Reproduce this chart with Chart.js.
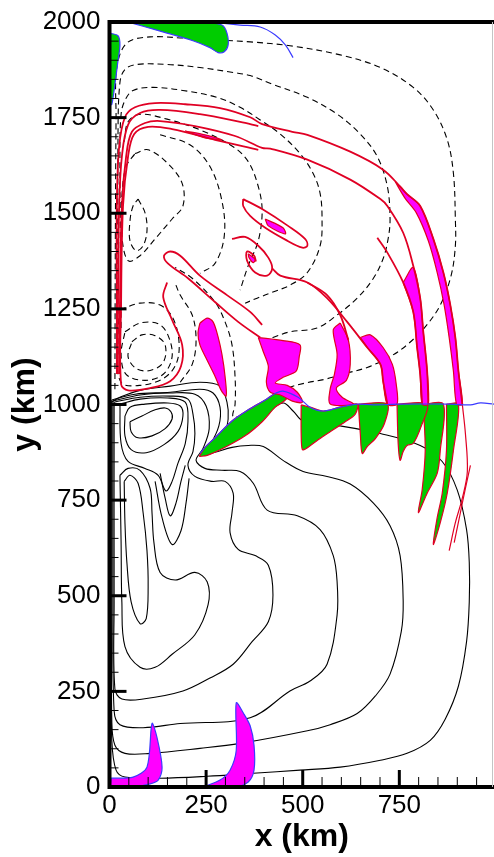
<!DOCTYPE html>
<html>
<head>
<meta charset="utf-8">
<script src="https://cdn.jsdelivr.net/npm/chart.js@4.4.1/dist/chart.umd.min.js"></script>
<style>
  html, body { margin: 0; padding: 0; background: #fff; overflow: hidden; }
  canvas { display: block; }
</style>
</head>
<body>
<canvas id="gyre" width="494" height="857"></canvas>
<script>
// axes, km
var xMax = 995;
var yMax = 2000;
var xTickValues = [0, 250, 500, 750];
var yTickValues = [0, 250, 500, 750, 1000, 1250, 1500, 1750, 2000];
var minorStep = 50;

// streamfunction > 0 (southern gyre), [x, y] in km
var psiCore = [[53,955],[56,929],[74,913],[110,918],[144,937],[162,962],[159,981],[144,991],[118,986],[84,970],[53,955]];
var psiCell = [[40,970],[40,918],[56,882],[95,874],[141,895],[177,929],[190,970],[183,996],[151,1004],[92,1001],[53,993],[40,970]];
var psiLobe = [[27,1001],[30,898],[48,851],[92,833],[126,815],[146,774],[162,799],[177,846],[196,898],[203,955],[196,1006],[151,1017],[79,1014],[27,1001]];
var psiTip1 = [[131,820],[144,755],[157,709],[172,742],[185,799],[196,841]];
var psiTip2 = [[118,799],[136,704],[162,634],[185,670],[198,742],[206,807]];
var psiTongue1 = [[38,799],[40,691],[45,587],[56,484],[79,427],[95,440],[100,523],[97,618],[87,717],[74,794],[53,815],[38,799]];
var psiTongue2 = [[27,815],[30,639],[32,484],[40,367],[79,313],[118,313],[162,347],[221,398],[255,476],[253,536],[221,561],[170,541],[131,561],[115,639],[110,717],[105,781],[79,828],[48,833],[27,815]];
var psiRing1 = [[12,1006],[79,1019],[157,1022],[203,1014],[216,975],[221,924],[216,877],[203,841],[221,812],[265,799],[299,799],[320,768],[317,717],[312,665],[333,621],[377,605],[411,580],[423,502],[411,432],[369,380],[320,321],[260,285],[190,251],[87,230],[32,230],[14,256],[12,484],[12,1006]];
var psiRing2 = [[9,1009],[79,1025],[157,1030],[221,1027],[250,996],[258,937],[242,885],[224,854],[247,833],[291,828],[338,825],[372,794],[408,724],[486,709],[545,673],[579,605],[589,536],[589,450],[563,321],[519,277],[467,251],[364,181],[183,166],[87,155],[27,163],[12,199],[9,484],[9,1009]];
var psiRing3 = [[6,1012],[66,1027],[157,1032],[234,1040],[268,1030],[286,993],[283,944],[260,893],[240,867],[273,875],[317,888],[359,893],[398,890],[449,854],[501,825],[563,812],[623,792],[683,742],[726,683],[752,605],[760,484],[755,406],[726,295],[688,238],[641,192],[571,163],[512,147],[338,114],[234,101],[105,88],[40,88],[14,109],[6,173],[6,484],[6,1012]];
var psiRing4 = [[4,1006],[4,742],[4,354],[6,122],[17,44],[40,26],[131,23],[253,28],[372,36],[493,44],[597,52],[701,70],[770,88],[830,122],[869,178],[903,264],[924,380],[931,484],[931,587],[924,673],[900,776],[861,851],[804,893],[701,924],[597,944],[501,957],[475,983],[449,1004],[403,975],[351,937],[307,903],[286,893],[297,918],[307,962],[304,1006],[286,1048],[234,1058],[157,1048],[79,1037],[27,1019],[4,1006]];

// streamfunction < 0 (northern gyre)
var negRing1 = [[14,1040],[15,1400],[17,1751],[19,1881],[45,1945],[105,1961],[190,1958],[278,1953],[364,1948],[467,1938],[597,1914],[701,1881],[786,1829],[838,1770],[874,1692],[890,1604],[895,1485],[895,1415],[884,1337],[856,1260],[817,1203],[770,1156],[726,1125],[667,1097],[610,1081],[558,1066],[506,1056],[455,1040],[395,1001],[351,975],[320,968],[325,1001],[325,1071],[317,1156],[299,1216],[273,1268],[214,1330],[170,1358]];
var negRing2 = [[22,1131],[22,1700],[27,1842],[40,1876],[71,1889],[149,1889],[234,1881],[320,1868],[364,1860],[423,1837],[512,1803],[589,1759],[649,1707],[693,1648],[719,1570],[726,1485],[721,1433],[708,1381],[683,1330],[641,1278],[589,1234],[537,1200],[467,1190],[423,1175],[390,1160]];
var negRing3 = [[30,1200],[27,1648],[30,1759],[40,1795],[61,1821],[113,1829],[190,1821],[278,1803],[338,1777],[390,1744],[442,1707],[493,1656],[527,1604],[545,1552],[550,1485],[545,1415],[512,1345],[467,1312],[423,1294],[382,1278],[351,1265]];
var negRing4 = [[38,1687],[48,1739],[79,1759],[149,1746],[234,1718],[320,1674],[359,1635],[385,1570],[395,1506],[385,1428],[359,1363],[338,1299]];
var negLoop = [[66,1656],[100,1666],[151,1630],[188,1578],[190,1519],[162,1485],[118,1433],[79,1389],[48,1376],[32,1441],[32,1544],[43,1622],[66,1656]];
var negCore = [[74,1537],[92,1501],[97,1454],[87,1415],[69,1402],[53,1428],[53,1480],[61,1519],[74,1537]];
var negArc = [[131,1705],[208,1679],[260,1622],[291,1532],[297,1441],[273,1369],[234,1343]];
var eddy1 = [[58,1164],[84,1182],[118,1180],[144,1156],[139,1110],[105,1089],[69,1094],[48,1125],[58,1164]];
var eddy2 = [[40,1190],[79,1213],[126,1211],[151,1182],[162,1125],[139,1079],[92,1063],[43,1079],[30,1131],[40,1190]];
var eddy3 = [[27,1247],[79,1265],[131,1260],[164,1226],[180,1162],[172,1105],[139,1068],[79,1050],[30,1058],[19,1143],[27,1247]];
var eddyEdge = [[183,1058],[214,1105],[224,1169],[214,1234],[183,1286],[170,1317]];

// tracer front (red)
var strandA = [[19,1080],[19,1260],[19,1519],[25,1674],[40,1751],[66,1777],[118,1788],[196,1785],[286,1775],[364,1751],[395,1733],[473,1713],[512,1705],[623,1661],[708,1614],[752,1570],[770,1550],[804,1519],[838,1433],[864,1345],[882,1260],[895,1175],[903,1087],[913,1001]];
var strandB = [[22,1080],[22,1260],[25,1519],[32,1648],[48,1731],[79,1762],[131,1770],[234,1759],[338,1739],[385,1728]];
var strandC = [[27,1080],[27,1260],[32,1519],[43,1648],[58,1713],[92,1736],[131,1741],[221,1728],[325,1702],[395,1671],[416,1669],[512,1640],[623,1588],[701,1537],[719,1519],[760,1449],[786,1363],[804,1278],[812,1190],[822,1087],[825,1001]];
var strandD = [[149,1319],[139,1281],[162,1221],[188,1156],[185,1100],[157,1061],[105,1043],[48,1037],[30,1053],[30,1260],[35,1519],[48,1648],[64,1707],[100,1726],[162,1720],[273,1692],[385,1666]];
var hairpin = [[395,1208],[364,1242],[304,1286],[234,1337],[183,1389],[157,1400],[141,1389],[151,1369],[203,1330],[273,1268],[333,1216],[390,1175]];
var curl1 = [[346,1537],[395,1511],[462,1467],[506,1433],[512,1415],[499,1410],[455,1431],[403,1462],[364,1493],[346,1519],[346,1537]];
var curl2 = [[317,1433],[351,1438],[385,1415],[411,1384],[421,1356],[408,1337],[377,1345],[356,1376],[356,1400],[374,1389],[379,1374]];
var armT2 = [[512,1319],[563,1286],[597,1234],[618,1169]];
var armT3 = [[421,1356],[442,1337],[512,1319],[563,1278],[615,1216],[667,1149],[701,1105],[708,1061],[719,1001]];
var armT4 = [[693,1436],[719,1397],[760,1319],[786,1242],[796,1149],[804,1079],[809,1001]];
var thread1 = [[879,618],[895,691],[913,755],[926,825],[921,924],[913,1001]];
var thread2 = [[892,639],[908,717],[921,781],[934,841]];

// tracer north of the front (magenta)
var blobM1 = [[234,1213],[253,1226],[268,1216],[281,1177],[291,1131],[299,1074],[302,1022],[289,1037],[273,1074],[253,1115],[234,1156],[229,1187],[234,1213]];
var blobM2 = [[385,1175],[449,1167],[493,1156],[491,1125],[483,1087],[449,1071],[429,1056],[460,1050],[486,1032],[499,1006],[473,1009],[442,1025],[416,1032],[406,1058],[411,1100],[398,1138],[385,1175]];
var bandT2 = [[597,1213],[579,1195],[589,1131],[582,1079],[571,1040],[571,1001],[631,1001],[602,1019],[587,1043],[613,1063],[623,1105],[618,1169],[597,1213]];
var bandT3 = [[649,1175],[667,1149],[701,1105],[708,1061],[719,1001],[744,1001],[742,1053],[732,1105],[708,1149],[675,1182],[649,1175]];
var bandT4 = [[760,1319],[786,1242],[796,1149],[804,1079],[809,1001],[825,1001],[822,1087],[812,1190],[804,1278],[786,1358],[760,1319]];
var bandT5 = [[739,1583],[770,1550],[804,1519],[838,1433],[864,1345],[882,1260],[895,1175],[903,1087],[913,1001],[898,1001],[890,1087],[879,1175],[866,1260],[848,1345],[825,1428],[794,1501],[765,1539],[739,1583]];
var curlCore1 = [[403,1485],[449,1462],[455,1446],[411,1467],[403,1485]];
var curlCore2 = [[359,1394],[377,1379],[372,1371],[361,1384],[359,1394]];
var sliver = [[196,1715],[247,1705],[291,1692],[247,1697],[196,1715]];
var finWest = [[4,23],[61,26],[97,52],[110,166],[123,129],[136,52],[126,18],[105,8],[61,0],[4,0],[4,23]];
var finEast = [[242,0],[286,18],[312,44],[328,96],[328,220],[346,194],[364,160],[374,109],[374,44],[359,13],[325,0],[242,0]];

// tracer south of the front (green)
var ribbon = [[232,864],[247,888],[273,913],[317,957],[359,986],[403,1012],[431,1030],[449,1035],[465,1025],[452,1009],[429,993],[395,955],[351,918],[299,888],[253,867],[232,864]];
var dropG2 = [[496,999],[519,993],[553,983],[597,993],[641,1001],[636,975],[610,955],[571,929],[540,908],[509,885],[499,882],[496,924],[496,999]];
var dropG3 = [[644,1001],[719,1001],[711,949],[688,911],[667,890],[654,872],[649,924],[644,1001]];
var dropG4 = [[744,1001],[822,1001],[807,944],[786,898],[770,893],[760,877],[752,854],[747,898],[744,1001]];
var dropG5 = [[812,1001],[864,1001],[856,880],[848,820],[822,768],[799,717],[809,776],[817,880],[812,1001]];
var dropG6 = [[872,1001],[903,1001],[890,880],[874,768],[856,691],[838,634],[848,704],[861,768],[872,880],[872,1001]];
var greenTop = [[48,2000],[105,2000],[234,2000],[291,1992],[304,1971],[307,1940],[297,1922],[281,1920],[260,1933],[216,1951],[149,1971],[87,1989],[48,2000]];
var greenWall = [[0,1971],[22,1964],[27,1940],[22,1899],[14,1837],[6,1785],[0,1785],[0,1971]];

// front line (blue)
var frontLine = [[234,872],[247,888],[273,913],[317,957],[359,986],[403,1012],[431,1030],[449,1035],[488,1019],[519,993],[553,983],[597,993],[641,1001],[683,999],[752,1001],[882,1001],[934,999],[960,1004],[995,1001]];
var frontTop = [[291,1997],[338,1992],[390,1987],[429,1966],[455,1940],[475,1907]];

var RED = '#e00024', MAGENTA = '#ff00ff', GREEN = '#00cc00', BLUE = '#3b3bff';

function curve(data, color, width, dash, order) {
  return { data: data, showLine: true, fill: false, borderColor: color, borderWidth: width,
           borderDash: dash || [], pointRadius: 0, tension: 0.35, order: order };
}
function patch(data, color, edge, order) {
  return { data: data, showLine: true, fill: 'shape', backgroundColor: color, borderColor: edge,
           borderWidth: 1.2, pointRadius: 0, tension: 0.3, order: order };
}

var datasets = [];
[psiCore, psiCell, psiLobe, psiTip1, psiTip2, psiTongue1, psiTongue2, psiRing1, psiRing2, psiRing3, psiRing4]
  .forEach(function (d) { datasets.push(curve(d, '#000', 1.1, null, 9)); });
[negRing1, negRing2, negRing3, negRing4, negLoop, negCore, negArc, eddy1, eddy2, eddy3, eddyEdge]
  .forEach(function (d) { datasets.push(curve(d, '#000', 1.1, [6, 4], 9)); });
[blobM1, blobM2, bandT2, bandT3, bandT4, bandT5, curlCore1, curlCore2, sliver]
  .forEach(function (d) { datasets.push(patch(d, MAGENTA, RED, 5)); });
[finWest, finEast].forEach(function (d) { datasets.push(patch(d, MAGENTA, BLUE, 5)); });
[ribbon, dropG2, dropG3, dropG4, dropG5, dropG6]
  .forEach(function (d) { datasets.push(patch(d, GREEN, RED, 5)); });
[greenTop, greenWall].forEach(function (d) { datasets.push(patch(d, GREEN, BLUE, 5)); });
[strandA, strandB, strandC, strandD, hairpin, curl1, curl2, armT2, armT3, armT4]
  .forEach(function (d) { datasets.push(curve(d, RED, 1.8, null, 3)); });
[thread1, thread2].forEach(function (d) { datasets.push(curve(d, RED, 1.2, null, 3)); });
[frontLine, frontTop].forEach(function (d) { datasets.push(curve(d, BLUE, 1.2, null, 2)); });

// frame with inward ticks
var framePlugin = {
  id: 'frame',
  afterDatasetsDraw: function (chart) {
    var ctx = chart.ctx, a = chart.chartArea;
    var xs = chart.scales.x, ys = chart.scales.y, v, p, major;
    ctx.save();
    ctx.strokeStyle = '#000';
    for (v = 0; v <= yMax; v += minorStep) {
      major = v % 250 === 0;
      p = ys.getPixelForValue(v);
      ctx.lineWidth = major ? 3 : 1;
      ctx.beginPath(); ctx.moveTo(a.left, p); ctx.lineTo(a.left + (major ? 17 : 9), p); ctx.stroke();
    }
    for (v = 0; v <= xMax; v += minorStep) {
      major = v % 250 === 0;
      p = xs.getPixelForValue(v);
      ctx.lineWidth = major ? 3 : 1;
      ctx.beginPath(); ctx.moveTo(p, a.bottom); ctx.lineTo(p, a.bottom - (major ? 17 : 10)); ctx.stroke();
    }
    ctx.lineWidth = 4;
    ctx.beginPath();
    ctx.moveTo(a.right, a.top); ctx.lineTo(a.left, a.top);
    ctx.lineTo(a.left, a.bottom); ctx.lineTo(a.right, a.bottom);
    ctx.stroke();
    ctx.strokeStyle = '#c4c4c4'; ctx.lineWidth = 1;
    ctx.beginPath(); ctx.moveTo(a.right - 1.5, a.top); ctx.lineTo(a.right - 1.5, a.bottom); ctx.stroke();
    ctx.restore();
  }
};

var FONT = '"Liberation Sans", Arial, Helvetica, sans-serif';
function plain(v) { return String(v); }

new Chart(document.getElementById('gyre'), {
  type: 'scatter',
  data: { datasets: datasets },
  options: {
    responsive: false,
    animation: false,
    layout: { padding: { top: 14, right: 0, bottom: 0, left: 0 } },
    plugins: { legend: { display: false }, tooltip: { enabled: false } },
    scales: {
      x: {
        type: 'linear', min: 0, max: xMax,
        grid: { display: false, drawTicks: false }, border: { display: false },
        afterBuildTicks: function (s) { s.ticks = xTickValues.map(function (v) { return { value: v }; }); },
        afterFit: function (s) { s.height = 70; },
        ticks: { color: '#000', padding: 6, callback: plain, font: { family: FONT, size: 26, lineHeight: 1 } },
        title: { display: true, text: 'x (km)', color: '#000', padding: { top: 0, bottom: 1 },
                 font: { family: FONT, size: 32, weight: 'bold' } }
      },
      y: {
        type: 'linear', min: 0, max: yMax,
        grid: { display: false, drawTicks: false }, border: { display: false },
        afterBuildTicks: function (s) { s.ticks = yTickValues.map(function (v) { return { value: v }; }); },
        afterFit: function (s) { s.width = 109.5; },
        ticks: { color: '#000', padding: 9, callback: plain, font: { family: FONT, size: 26, lineHeight: 1 } },
        title: { display: true, text: 'y (km)', color: '#000', padding: { top: 6, bottom: 0 },
                 font: { family: FONT, size: 32, weight: 'bold' } }
      }
    }
  },
  plugins: [framePlugin]
});
</script>
</body>
</html>
